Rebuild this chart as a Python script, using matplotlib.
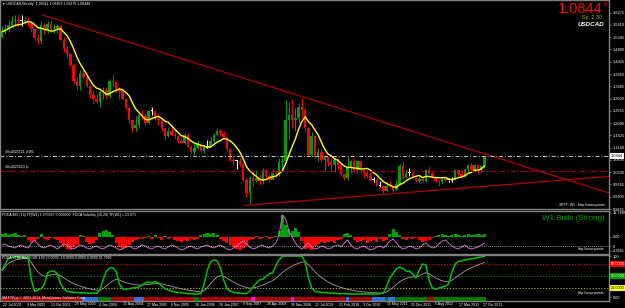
import numpy as np
import pandas as pd
import matplotlib
matplotlib.use("Agg")
import matplotlib.pyplot as plt
import matplotlib.transforms as mtransforms

plt.rcParams["font.family"] = ["Liberation Sans", "DejaVu Sans"]

W, H = 625, 308
BG = "black"
EDGE = "#808080"

# ---- price data, monthly bars Jul 2001 .. Nov 2013 ----
first_open = 1.535
close_2001 = [1.555, 1.565, 1.58, 1.595, 1.60, 1.595]
high_2001 = [1.575, 1.585, 1.60, 1.615, 1.62, 1.615]
low_2001 = [1.53, 1.545, 1.555, 1.575, 1.575, 1.575]
close_2002 = [1.595, 1.60, 1.59, 1.565, 1.53, 1.52, 1.58, 1.56, 1.585, 1.565, 1.57, 1.575]
high_2002 = [1.62, 1.615, 1.61, 1.595, 1.57, 1.545, 1.595, 1.59, 1.595, 1.60, 1.585, 1.585]
low_2002 = [1.575, 1.585, 1.575, 1.555, 1.525, 1.51, 1.51, 1.545, 1.55, 1.555, 1.55, 1.55]
close_2003 = [1.525, 1.49, 1.47, 1.43, 1.37, 1.35, 1.40, 1.385, 1.35, 1.315, 1.30, 1.29]
high_2003 = [1.58, 1.535, 1.50, 1.475, 1.435, 1.385, 1.41, 1.415, 1.39, 1.355, 1.335, 1.32]
low_2003 = [1.52, 1.48, 1.455, 1.425, 1.36, 1.335, 1.335, 1.375, 1.345, 1.305, 1.28, 1.285]
close_2004 = [1.325, 1.335, 1.31, 1.37, 1.365, 1.335, 1.33, 1.30, 1.265, 1.22, 1.19, 1.20]
high_2004 = [1.335, 1.345, 1.345, 1.375, 1.395, 1.37, 1.345, 1.33, 1.305, 1.27, 1.225, 1.235]
low_2004 = [1.27, 1.30, 1.30, 1.305, 1.35, 1.325, 1.30, 1.295, 1.26, 1.21, 1.175, 1.18]
close_2005 = [1.24, 1.235, 1.21, 1.255, 1.255, 1.225, 1.22, 1.19, 1.16, 1.18, 1.165, 1.16]
high_2005 = [1.245, 1.26, 1.245, 1.26, 1.27, 1.26, 1.245, 1.225, 1.195, 1.195, 1.195, 1.175]
low_2005 = [1.19, 1.225, 1.20, 1.205, 1.24, 1.22, 1.20, 1.18, 1.15, 1.155, 1.16, 1.15]
close_2006 = [1.14, 1.135, 1.165, 1.12, 1.10, 1.115, 1.13, 1.105, 1.12, 1.12, 1.14, 1.165]
high_2006 = [1.165, 1.155, 1.17, 1.17, 1.125, 1.135, 1.145, 1.135, 1.125, 1.145, 1.155, 1.17]
low_2006 = [1.135, 1.135, 1.13, 1.12, 1.095, 1.09, 1.11, 1.10, 1.095, 1.115, 1.12, 1.135]
close_2007 = [1.18, 1.17, 1.155, 1.11, 1.07, 1.065, 1.065, 1.055, 0.995, 0.945, 1.00, 0.99]
high_2007 = [1.19, 1.185, 1.18, 1.16, 1.115, 1.085, 1.07, 1.075, 1.06, 1.00, 1.01, 1.025]
low_2007 = [1.16, 1.16, 1.15, 1.105, 1.065, 1.055, 1.035, 1.045, 0.99, 0.93, 0.905, 0.97]
close_2008 = [1.00, 0.99, 1.03, 1.01, 0.995, 1.02, 1.015, 1.06, 1.065, 1.22, 1.24, 1.22]
high_2008 = [1.03, 1.015, 1.04, 1.035, 1.015, 1.035, 1.03, 1.075, 1.09, 1.295, 1.29, 1.30]
low_2008 = [0.985, 0.975, 0.98, 1.00, 0.985, 1.01, 1.005, 1.01, 1.03, 1.06, 1.15, 1.19]
close_2009 = [1.23, 1.27, 1.26, 1.19, 1.09, 1.16, 1.08, 1.10, 1.07, 1.08, 1.06, 1.05]
high_2009 = [1.265, 1.285, 1.305, 1.27, 1.195, 1.175, 1.165, 1.115, 1.11, 1.09, 1.085, 1.075]
low_2009 = [1.18, 1.21, 1.22, 1.17, 1.085, 1.08, 1.075, 1.065, 1.06, 1.03, 1.045, 1.03]
close_2010 = [1.07, 1.05, 1.015, 1.00, 1.04, 1.065, 1.03, 1.065, 1.03, 1.02, 1.01, 0.995]
high_2010 = [1.08, 1.075, 1.055, 1.02, 1.08, 1.07, 1.075, 1.07, 1.065, 1.035, 1.03, 1.025]
low_2010 = [1.025, 1.035, 1.01, 0.995, 0.995, 1.02, 1.025, 1.02, 1.02, 1.00, 1.0, 0.99]
close_2011 = [0.995, 0.97, 0.97, 0.95, 0.97, 0.965, 0.955, 0.98, 1.045, 1.00, 1.02, 1.02]
high_2011 = [1.005, 1.0, 0.99, 0.975, 0.985, 0.99, 0.965, 0.995, 1.055, 1.06, 1.035, 1.04]
low_2011 = [0.985, 0.97, 0.965, 0.945, 0.95, 0.965, 0.945, 0.955, 0.975, 0.995, 1.00, 1.01]
close_2012 = [1.00, 0.99, 0.998, 0.99, 1.03, 1.02, 1.00, 0.99, 0.985, 1.00, 0.995, 0.995]
high_2012 = [1.025, 1.005, 1.01, 1.005, 1.035, 1.045, 1.025, 1.005, 0.995, 1.00, 1.005, 0.995]
low_2012 = [1.00, 0.985, 0.985, 0.985, 0.985, 1.015, 1.00, 0.985, 0.97, 0.98, 0.99, 0.985]
close_2013 = [0.995, 1.03, 1.015, 1.005, 1.035, 1.05, 1.03, 1.05, 1.03, 1.045, 1.0844]
high_2013 = [1.005, 1.035, 1.035, 1.03, 1.04, 1.055, 1.06, 1.055, 1.055, 1.05, 1.09]
low_2013 = [0.985, 0.995, 1.01, 1.0, 1.005, 1.02, 1.025, 1.025, 1.02, 1.02, 1.04]

years = range(2001, 2014)
closes = np.concatenate([globals()[f"close_{y}"] for y in years])
highs = np.concatenate([globals()[f"high_{y}"] for y in years])
lows = np.concatenate([globals()[f"low_{y}"] for y in years])

# trendlines (month index, price)
resist_x, resist_y = [12.3, 186.2], [1.619, 0.944]
support_x, support_y = [74.5, 186.2], [0.897, 1.007]
level_lines = [1.0852, 1.029]
level_labels = ["#0x4025521 d W1", "#0x4025523 lp"]

# ---- indicator 1: histogram + volatility ----
hist = ([3, 4, 2, 3, 4, 2] + [1, 2] + [-3, -5, -4, -2] + [3] + [-2, -3, -1, -2, -3]
        + [-6, -9, -12, -13, -10, -8] + [2, 1] + [-5, -7, -6, -3] + [4, 6, 7, 5, 2]
        + [-6, -10, -12, -11, -8, -5] + [-3, -2, -2, -1] + [1, -2, 2, -1, -3, 1, -2, -1]
        + [-3, -4, -5, -3, -4, -2, -3, -2] + [2, 3, 4, 3, 4, 2]
        + [-2, -4, -6, -8, -10, -12, -13, -11, -9] + [-3, -2, 1, -2, -1, 1, -2, -1, 1]
        + [6, 22, 12, 8] + [6, 9, 5] + [-4, -12, -11, -13, -9, -7, -5]
        + [-6, -5, -4, -6, -3, -2] + [3, 4, 2] + [-3, -5, -4, -3, -6, -4, -3, -5, -2, -4, -3]
        + [3, 8, 5, 2] + [-2, -3, -1, -2] + [-1, -3, -5, -4, -3, -1]
        + [1, 2, 3, 2, 1, 2, 3, 2, 1, 2, 3, 2, 2, 3, 2, 3])
volat = ([-8, -7, -9, -10, -11, -9, -8, -10, -11, -6, -3, -7]
         + [-10, -11, -9, -8, -10, -12, -9, -7, -8, -11, -12, -10]
         + [-8, -9, -11, -12, -10, -9, -11, -12, -10, -8, -9, -11]
         + [-13, -12, -10, -9, -11, -12, -10, -8, -9, -11, -12, -10]
         + [-9, -11, -12, -10, -8, -9, -11, -13, -12, -10, -9, -11]
         + [-12, -10, -9, -8, -10, -11, -9, -8, -10, -12, -13, -11]
         + [-9, -6, -4, -7, -10, -12, -11, -9, -8, -10, -11, -9]
         + [-6, 2, 22, 18, 6, 0, -6, -10, -12, -9, -6, -10]
         + [-12, -11, -9, -10, -12, -11, -9, -8, -10, -6, -3, -8]
         + [-11, -12, -10, -9, -11, -13, -12, -10, -9, -11, -8, -4]
         + [-2, -6, -10, -12, -11, -9, -10, -12, -11, -8, -6, -9]
         + [-11, -10, -7, -4, -3, -6, -9, -11, -12, -10, -8, -11]
         + [-12, -11, -10, -8, -6])

# ---- indicator 2: strength line + state strip ----
strength = ([65, 80, 95] + [97, 98, 98, 97, 97, 96] + [40, 12, 15, 18, 30, 58, 62, 62, 55]
            + [30, 17] + [12, 10, 9, 9, 8] + [8, 7, 7, 7, 7] + [15, 40, 62, 70, 70, 62, 30, 18]
            + [17, 18, 20, 21, 22] + [28, 33, 35, 33, 36, 33, 25, 18]
            + [15, 12, 10, 9, 8, 7, 6, 6, 5, 5, 6] + [30, 65, 86, 90, 88, 70, 40, 18, 12]
            + [9, 8, 7, 6, 6] + [12, 22, 32, 40, 42, 50, 55, 58, 75, 90] + [100] * 7
            + [85, 45, 20, 12] + [10, 9, 8, 8, 7, 7, 6, 6, 6, 5, 5, 5, 5, 5, 5, 5, 5, 5, 5, 6, 8]
            + [25, 45, 57, 68, 72, 68, 62, 62, 55, 45, 65, 80, 78, 40, 20, 17, 20, 22, 25, 30]
            + [60, 80, 86, 88, 90, 92, 93, 94, 96, 98, 100])
strip = ("r" * 25 + "b" * 5 + "g" * 4 + "r" * 7 + "bbbr" + "r" * 14 + "gg" + "r" * 5
         + "r" * 11 + "m" + "r" * 11 + "m" + "r" * 16 + "b" + "r" * 7 + "bb" + "bbgbb"
         + "g" * 10 + "rr" + "g" * 16)
levels2 = [80, 50, 20]

dates = ["22 Jul 2001", "3 Mar 2002", "13 Oct 2002", "25 May 2003", "4 Jan 2004",
         "15 Aug 2004", "27 Mar 2005", "6 Nov 2005", "18 Jun 2006", "28 Jan 2007",
         "9 Sep 2007", "20 Apr 2008", "30 Nov 2008", "12 Jul 2009", "21 Feb 2010",
         "3 Oct 2010", "15 May 2011", "25 Dec 2011", "5 Aug 2012", "17 Mar 2013",
         "27 Oct 2013"]

N = len(closes)
assert len(highs) == N and len(lows) == N and len(hist) == N
assert len(volat) == N and len(strength) == N and len(strip) == N
idx = np.arange(N)

SMALL = 2.5   # tiny terminal font
AXFS = 2.8
RIGHT = 609
XMIN, XMAX = -2 / 3.26, (RIGHT - 2) / 3.26
fig = plt.figure(figsize=(W / 100, H / 100), dpi=100, facecolor=BG)


def px_axes(x0, y0, x1, y1):
    ax = fig.add_axes([x0 / W, 1 - y1 / H, (x1 - x0) / W, (y1 - y0) / H])
    ax.set_facecolor(BG)
    for s in ax.spines.values():
        s.set_color(EDGE)
        s.set_linewidth(1)
    ax.tick_params(axis="x", bottom=False, labelbottom=False)
    ax.yaxis.tick_right()
    ax.tick_params(axis="y", colors=EDGE, labelcolor="white", labelsize=AXFS,
                   length=1.5, width=0.6, pad=1)
    ax.set_xlim(XMIN, XMAX)
    return ax


def ftext(x, y, s, **kw):
    kw.setdefault("color", "white")
    kw.setdefault("fontsize", SMALL)
    kw.setdefault("va", "center")
    fig.text(x / W, 1 - y / H, s, **kw)


# main price pane
ax = px_axes(0, 0, RIGHT, 209)
ax.set_ylim(0.8897, 1.6754)
opens = np.r_[first_open, closes[:-1]]
cols = np.where(closes > opens + 0.004, "#00a000",
                np.where(closes < opens - 0.004, "#ff0000", "#ffffff"))
ax.vlines(idx, lows, highs, colors=cols, lw=0.7)
body = np.maximum(np.abs(closes - opens), 0.004)
ax.bar(idx, body, bottom=np.minimum(opens, closes), width=0.75, color=cols, linewidth=0)
ma = pd.Series(closes).rolling(7, min_periods=1).mean()
ax.plot(idx, ma, color="#ffff00", lw=1.0)
ax.plot(resist_x, resist_y, color="#b00000", lw=0.9)
ax.plot(support_x, support_y, color="#b00000", lw=0.9)
ax.axhline(level_lines[0], color="#c0c0c0", lw=0.7, ls=(0, (4, 2, 1, 2)))
ax.axhline(level_lines[1], color="#b00000", lw=0.8, ls=(0, (4, 2, 1, 2)))
for lv, lab in zip(level_lines, level_labels):
    ax.text(0.8, lv + 0.006, lab, color="white", fontsize=SMALL, va="bottom")

price_ticks = 1.6275 - 0.0465 * np.arange(17)
ax.set_yticks(price_ticks)
ax.set_yticklabels([f"{t:.4f}" for t in price_ticks])
bt = mtransforms.blended_transform_factory(ax.transAxes, ax.transData)
ax.text(1.003, closes[-1], f"{closes[-1]:.4f}", transform=bt, fontsize=AXFS, color="black",
        va="center", bbox=dict(boxstyle="square,pad=0.25", fc="white", ec="none"))

# indicator pane 1
ax1 = px_axes(0, 211, RIGHT, 254)
ax1.set_ylim(-17, 26)
hist = np.array(hist)
ax1.bar(idx, hist, width=0.95, color=np.where(hist > 0, "#00a000", "#ff0000"), linewidth=0)
ax1.plot(idx, volat, color="#c070c0", lw=0.7)
ax1.axhline(-9, color="white", lw=0.5, ls=(0, (1, 2)))
ax1.set_yticks([24, 0, -9, -14])
ax1.set_yticklabels(["11.7495", "0.00", "0", "-4.9545"])
ax1.get_yticklabels()[-1].set_fontsize(2.4)

# indicator pane 2
ax2 = px_axes(0, 255, RIGHT, 301)
ax2.set_ylim(-12.5, 102.5)
strip_cols = {"r": "#b00000", "g": "#007800", "b": "#3070e0", "m": "#ff00ff"}
ax2.bar(idx, 10, bottom=-12.5, width=1.0, color=[strip_cols[c] for c in strip], linewidth=0)
for lv, c in zip(levels2, ["#ff0000", "#00a000", "#d0d000"]):
    ax2.axhline(lv, color=c, lw=0.6, ls=(0, (1.5, 2)))
ax2.plot(idx, pd.Series(strength).ewm(span=12).mean(), color="#a0a0a0", lw=0.6)
ax2.plot(idx, strength, color="#00c000", lw=1.1)
ax2.set_yticks([100, -3])
ax2.set_yticklabels(["100", "0.00"])
bt2 = mtransforms.blended_transform_factory(ax2.transAxes, ax2.transData)
for lv, fc, tc in zip(levels2, ["#ff0000", "#00a000", "#ffff00"], ["white", "white", "black"]):
    ax2.text(1.003, lv, f"{lv:.4f}", transform=bt2, fontsize=AXFS, color=tc, va="center",
             bbox=dict(boxstyle="square,pad=0.25", fc=fc, ec="none"))

# date axis
dt = mtransforms.blended_transform_factory(ax2.transData, fig.transFigure)
for k, d in enumerate(dates):
    xm = k * 32 / 4.345
    fig.text(xm + 0.4, 1 - 304.5 / H, d, transform=dt, color="white", fontsize=SMALL, va="center")

# header and side texts
ftext(2, 4, "\u25bc USDCAD,Weekly  1.08311 1.08459 1.08279 1.08448")
ftext(2, 215, "FOCA 880 (14) TF(W1) 1.370357 0.000000  FOCA Volatility (10,20) TF(W1) = 23.071")
ftext(2, 258, "FOCA STRENGTH W1.183 | 0.0000 -10.0000 0.0000 0.0000 91.7990")
ftext(2, 298, "0M FTP(s) \u00a9 2001-2013, MetaQuotes Software Corp.")
ftext(603, 9, "1.0844", color="#ff0000", fontsize=10.5, ha="right")
ftext(604, 5, "8", color="#ff0000", fontsize=4.5)
ftext(602, 17, "Sp: 2.30", color="#b0b000", fontsize=3.8, ha="right")
ftext(604, 25, "USDCAD", fontsize=4.5, ha="right", fontweight="bold", style="italic")
ftext(605, 219, "W1 Bulls (Strong)", color="#00a000", fontsize=5.8, ha="right")
ftext(605, 205, "3RTF: W1 - http://www.pointe", fontsize=SMALL, ha="right")
ftext(605, 249, "http://www.pointe", fontsize=SMALL, ha="right")
ftext(605, 293, "http://www.pointe", fontsize=SMALL, ha="right")

fig.savefig("out.png", dpi=100, facecolor=BG)
plt.close(fig)
